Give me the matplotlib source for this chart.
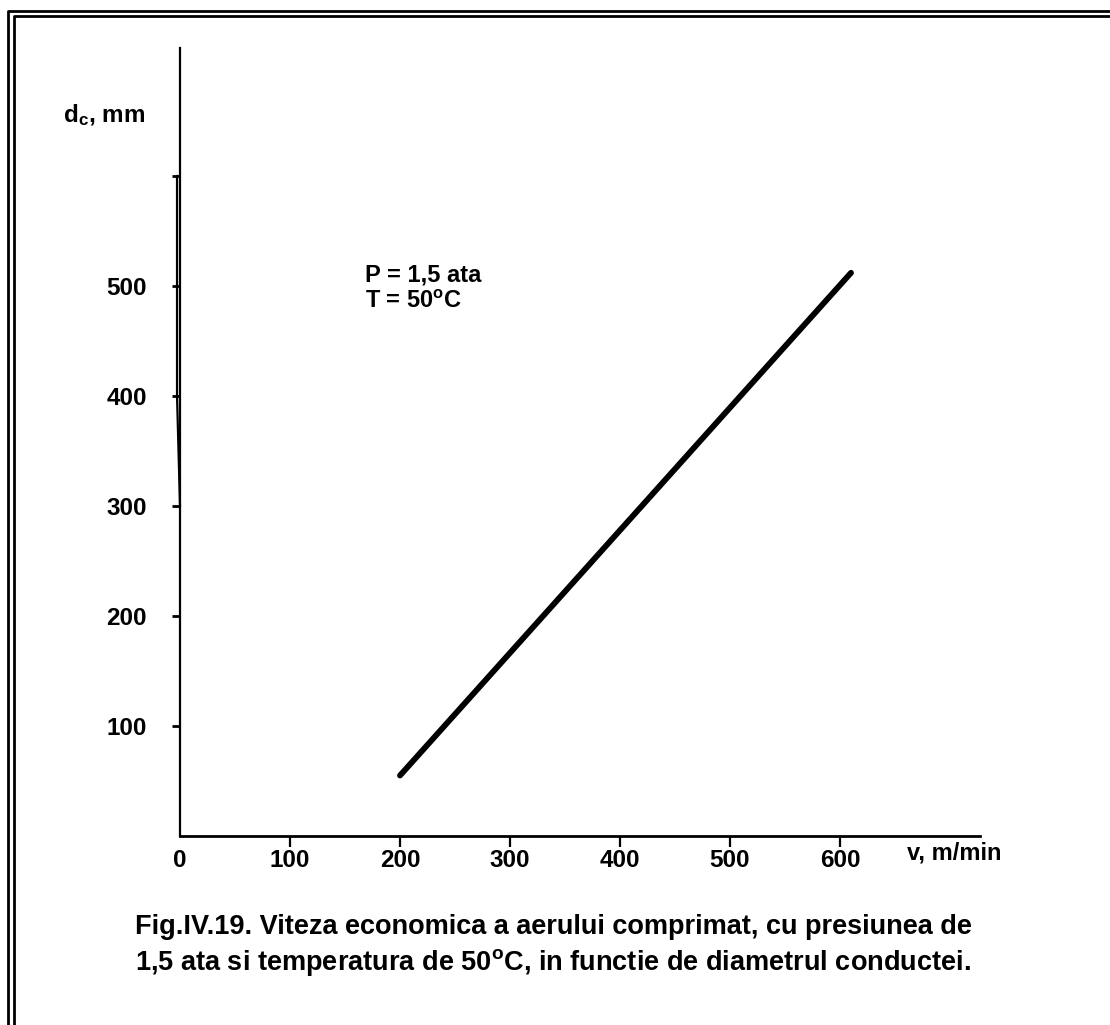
import matplotlib
matplotlib.use("Agg")
import matplotlib.pyplot as plt
from matplotlib.lines import Line2D

plt.rcParams['font.family'] = ['Liberation Sans', 'DejaVu Sans']
plt.rcParams['font.weight'] = 'bold'
plt.rcParams['mathtext.fontset'] = 'custom'
plt.rcParams['mathtext.rm'] = 'Liberation Sans:bold'
plt.rcParams['mathtext.bf'] = 'Liberation Sans:bold'
plt.rcParams['mathtext.it'] = 'Liberation Sans:bold'

# data
v_vals = [200, 610]          # v, m/min
d_vals = [55, 512]           # d_c, mm
x_ticks = [0, 100, 200, 300, 400, 500, 600]
x_tick_labels = ['0', '100', '200', '300', '400', '500', '600']
y_ticks = [100, 200, 300, 400, 500, 600]
y_tick_labels = ['100', '200', '300', '400', '500', '']

W, H = 1110, 1025
fig = plt.figure(figsize=(W / 100, H / 100), dpi=100)

# axes geometry in pixels
x0, x1 = 180, 980
y0, y1 = 836, 48
ax = fig.add_axes([x0 / W, (H - y0) / H, (x1 - x0) / W, (y0 - y1) / H])
ax.set_xlim(0, (x1 - x0) / 1.1)
ax.set_ylim(0, (y0 - y1) / 1.1)

for s in ['top', 'right']:
    ax.spines[s].set_visible(False)
ax.spines['left'].set_linewidth(1.6)
ax.spines['bottom'].set_linewidth(2.0)

FS = 17.5
ax.set_xticks(x_ticks)
ax.set_xticklabels(x_tick_labels, fontsize=FS, fontweight='bold')
ax.set_yticks(y_ticks)
ax.set_yticklabels(y_tick_labels, fontsize=FS, fontweight='bold')
ax.tick_params(axis='x', direction='out', length=8, width=1.6, pad=1.5)
ax.tick_params(axis='y', direction='out', length=6, width=2.0, pad=18)
ax.xaxis.get_major_ticks()[0].tick1line.set_visible(False)

# secondary y-axis stroke (scan artifact)
ax.plot([-2.7, -2.7, 0], [600, 400, 300], color='black', lw=1.6, clip_on=False)

# data line
ax.plot(v_vals, d_vals, color='black', lw=4.2, solid_capstyle='round')

# annotation
ax.text(168, 510, 'P = 1,5 ata', fontsize=17, fontweight='bold', va='center')
ax.text(168, 486, r'T = 50$^{\mathrm{o}}$C', fontsize=17, fontweight='bold', va='center')

# axis labels
fig.text(63 / W, 1 - 115 / H, r'd$_{\mathrm{c}}$, mm', fontsize=17.5, fontweight='bold', va='center', ha='left')
fig.text(907 / W, 1 - 853 / H, 'v, m/min', fontsize=17, fontweight='bold', va='center', ha='left')

# caption
fig.text(135 / W, 1 - 927 / H, 'Fig.IV.19. Viteza economica a aerului comprimat, cu presiunea de',
         fontsize=19.5, fontweight='bold', va='center', ha='left')
fig.text(135 / W, 1 - 962 / H, r'1,5 ata si temperatura de 50$^{\mathrm{o}}$C, in functie de diametrul conductei.',
         fontsize=19.5, fontweight='bold', va='center', ha='left')

# double frame
def fl(xs, ys, lw):
    fig.add_artist(Line2D([x / W for x in xs], [1 - y / H for y in ys], color='black', lw=lw,
                          transform=fig.transFigure))

fl([8, 8, W], [H, 11, 11], 2.0)
fl([14, 14, W], [H, 16, 16], 2.0)

fig.savefig('out.png', dpi=100)
